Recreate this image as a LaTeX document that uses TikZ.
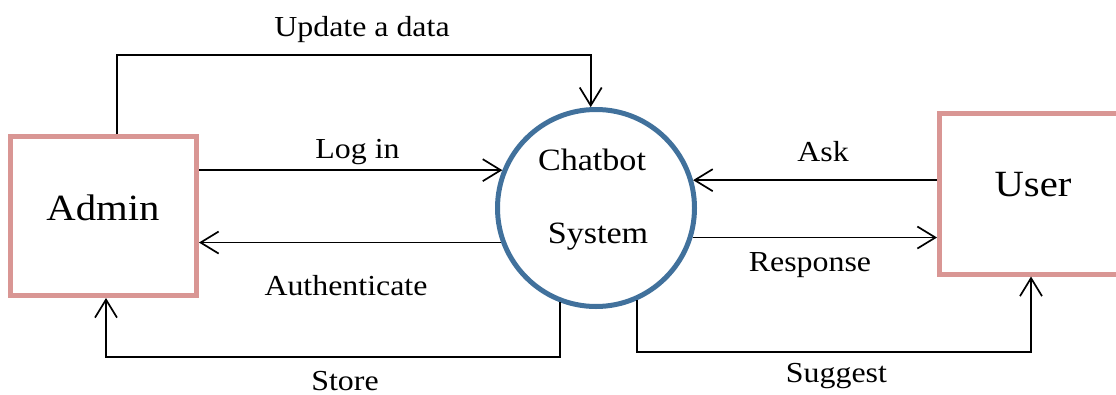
\documentclass[tikz,border=0pt]{standalone}
\usepackage{fontspec}
\setmainfont{Liberation Serif}[FakeStretch=1.1]
\usetikzlibrary{arrows.meta}
\definecolor{boxpink}{RGB}{217,150,148}
\definecolor{sysblue}{RGB}{65,113,156}
\begin{document}
\begin{tikzpicture}[x=1pt,y=-1pt,
  entity/.style={draw=boxpink,line width=5pt,rectangle,inner sep=0pt},
  process/.style={draw=sysblue,line width=5pt,circle,minimum size=197pt,inner sep=0pt},
  flow/.style={draw=black,line width=1.7pt,-{Straight Barb[length=18pt,width=22pt]}},
  lbl/.style={font=\fontsize{29}{34}\selectfont,anchor=base,inner sep=0pt},
  bigtxt/.style={font=\fontsize{37}{42}\selectfont,anchor=base,inner sep=0pt},
  systxt/.style={font=\fontsize{31}{36}\selectfont,anchor=base,inner sep=0pt}]
\useasboundingbox (0,0) rectangle (1116,394);
\clip (0,0) rectangle (1116,394);

% external entities and the central process
\node[entity,minimum width=186pt,minimum height=159pt] (admin) at (103.5,216) {};
\node[entity,minimum width=183pt,minimum height=161pt] (user) at (1031,193.5) {};
\node[process] (sys) at (596,208) {};

\node[bigtxt] (admintxt) at (103,220.5) {Admin};
\node[bigtxt] (usertxt) at (1033,196.5) {User};
\node[systxt] (systxt1) at (592,170) {Chatbot};
\node[systxt] (systxt2) at (598,243) {System};

% bend rows of the routed flows
\coordinate (updrow) at (0,55);
\coordinate (storerow) at (0,357);
\coordinate (sugrow) at (0,352);

% data flows
\draw[flow] ([xshift=13.5pt]admin.north) |- (updrow -| sys.93) -- (sys.93);
\draw[flow] (admin.east |- sys.158.5) -- (sys.158.5);
\draw[flow] (sys.200) -- (admin.east |- sys.200);
\draw[flow] (user.west |- sys.16.7) -- (sys.16.7);
\draw[flow] (sys.-17.3) -- (user.west |- sys.-17.3);
\draw[flow] (sys.249) -- (sys.249 |- storerow) -| ([xshift=2.5pt]admin.south);
\draw[flow] (sys.-66) -- (sys.-66 |- sugrow) -| (user.south);

% flow labels
\node[lbl] (lupd) at (362,36.5) {Update a data};
\node[lbl] (llog) at (357.5,158) {Log in};
\node[lbl] (lauth) at (346,295) {Authenticate};
\node[lbl] (lask) at (823,161.5) {Ask};
\node[lbl] (lresp) at (810,271.5) {Response};
\node[lbl] (lstore) at (345,390.5) {Store};
\node[lbl] (lsug) at (836.5,382.5) {Suggest};
\end{tikzpicture}
\end{document}
